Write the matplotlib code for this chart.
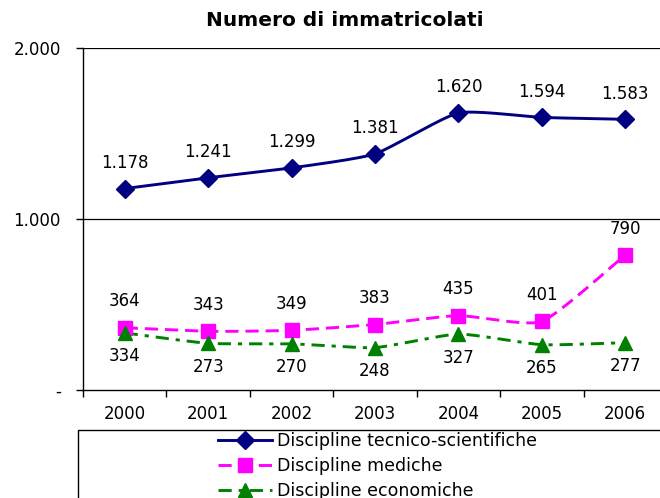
import numpy as np
import matplotlib
matplotlib.use("Agg")
import matplotlib.pyplot as plt
from matplotlib.patches import Rectangle

years = ["2000", "2001", "2002", "2003", "2004", "2005", "2006"]
tecnico = [1178, 1241, 1299, 1381, 1620, 1594, 1583]
mediche = [364, 343, 349, 383, 435, 401, 790]
economiche = [334, 273, 270, 248, 327, 265, 277]

series_names = ["Discipline tecnico-scientifiche", "Discipline mediche",
                "Discipline economiche"]
y_ticks = [0, 1000, 2000]
y_ticklabels = ["-", "1.000", "2.000"]


def it_fmt(v):
    return f"{v:,}".replace(",", ".")


def smooth(y, k=1 / 11, n=30):
    """Smoothed line through the points (bezier, mild tension)."""
    x = np.arange(len(y), dtype=float)
    y = np.asarray(y, dtype=float)
    px = np.concatenate([[x[0]], x, [x[-1]]])
    py = np.concatenate([[y[0]], y, [y[-1]]])
    pts = np.column_stack([px, py])
    t = np.linspace(0, 1, n)[:, None]
    xs, ys = [], []
    for i in range(1, len(pts) - 2):
        p0, p3 = pts[i], pts[i + 1]
        p1 = p0 + (pts[i + 1] - pts[i - 1]) * k
        p2 = p3 - (pts[i + 2] - pts[i]) * k
        b = (1 - t) ** 3 * p0 + 3 * (1 - t) ** 2 * t * p1 \
            + 3 * (1 - t) * t ** 2 * p2 + t ** 3 * p3
        xs.append(b[:, 0]); ys.append(b[:, 1])
    return np.concatenate(xs), np.concatenate(ys)


plt.rcParams["font.family"] = "DejaVu Sans"
plt.rcParams["lines.scale_dashes"] = False

fig = plt.figure(figsize=(6.6, 4.98), dpi=100)
ax = fig.add_axes([83 / 660, 1 - 390 / 498, (667 - 83) / 660, (390 - 48) / 498])

styles = [
    dict(color="#000080", ls="-", marker="D", ms=9),
    dict(color="#FF00FF", ls=(0, (9.5, 5)), marker="s", ms=9.5),
    dict(color="#008000", ls=(0, (9.5, 5, 3, 5)), marker="^", ms=10),
]
x = np.arange(len(years))
handles = []
for vals, name, st in zip([tecnico, mediche, economiche], series_names, styles):
    sx, sy = smooth(vals)
    ax.plot(sx, sy, color=st["color"], ls=st["ls"], lw=2.1, zorder=3)
    ax.plot(x, vals, ls="none", marker=st["marker"], ms=st["ms"],
            color=st["color"], zorder=4)
    h, = ax.plot([], [], color=st["color"], ls=st["ls"], lw=2.1,
                 marker=st["marker"], ms=st["ms"])
    handles.append(h)

for i in range(len(years)):
    ax.annotate(it_fmt(tecnico[i]), (x[i], tecnico[i]), xytext=(0, 18.5),
                textcoords="offset points", ha="center", va="center", fontsize=12)
    ax.annotate(it_fmt(mediche[i]), (x[i], mediche[i]), xytext=(0, 19),
                textcoords="offset points", ha="center", va="center", fontsize=12)
    ax.annotate(it_fmt(economiche[i]), (x[i], economiche[i]), xytext=(0, -17),
                textcoords="offset points", ha="center", va="center", fontsize=12)

ax.set_xlim(-0.5, len(years) - 0.5)
ax.set_ylim(0, 2000)
ax.set_yticks(y_ticks)
ax.set_yticklabels(y_ticklabels, fontsize=12)
ax.tick_params(axis="y", length=5, width=1, pad=11, direction="out")
ax.set_xticks(np.arange(len(years) + 1) - 0.5)
ax.set_xticklabels([])
ax.set_xticks(x, minor=True)
ax.set_xticklabels(years, minor=True, fontsize=12)
ax.tick_params(axis="x", which="major", length=5, width=1, direction="out")
ax.tick_params(axis="x", which="minor", length=0, pad=11)
for yv in [1000, 2000]:
    ax.axhline(yv, color="black", lw=0.9, zorder=1)
for s in ["top", "right"]:
    ax.spines[s].set_visible(False)
for s in ["left", "bottom"]:
    ax.spines[s].set_linewidth(1)

fig.text(345 / 660, 1 - 20 / 498, "Numero di immatricolati", ha="center",
         va="center", fontsize=14.5, fontweight="bold")

fig.patches.append(Rectangle((78 / 660, -0.1), 1.0, 1 - 430 / 498 + 0.1,
                             transform=fig.transFigure, fill=False,
                             edgecolor="black", lw=1))
fig.legend(handles, series_names, loc="upper left",
           bbox_to_anchor=(218 / 660, 1 - 432 / 498), frameon=False,
           fontsize=12.5, handlelength=3.1, handletextpad=0.3,
           labelspacing=0.4, borderpad=0, borderaxespad=0)

fig.savefig("out.png", dpi=100)
